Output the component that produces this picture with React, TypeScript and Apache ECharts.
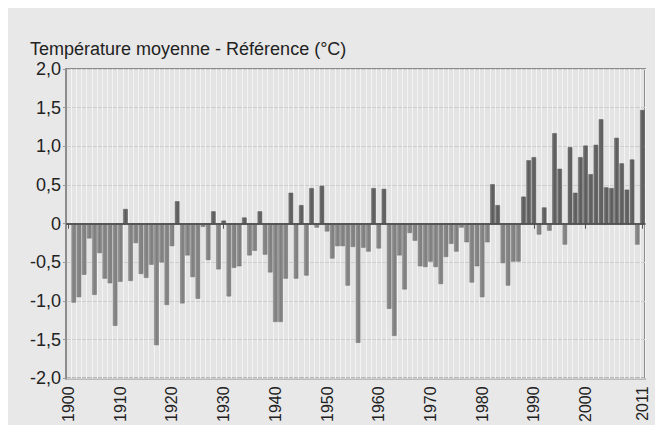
import React, { useEffect, useRef } from "react";
import * as echarts from "echarts";

const TITLE = "Température moyenne - Référence (°C)";
const FIRST_YEAR = 1900;

// anomalies (°C), 1900 .. 2011 (1900: no bar)
const values1900s: (number | null)[] = [null, -1.02, -0.95, -0.66, -0.19, -0.92, -0.38, -0.71, -0.77, -1.32];
const values1910s = [-0.75, 0.19, -0.74, -0.25, -0.65, -0.7, -0.53, -1.57, -0.5, -1.05];
const values1920s = [-0.29, 0.29, -1.03, -0.41, -0.69, -0.97, -0.04, -0.47, 0.16, -0.59];
const values1930s = [0.04, -0.94, -0.57, -0.55, 0.08, -0.41, -0.35, 0.16, -0.4, -0.63];
const values1940s = [-1.27, -1.27, -0.71, 0.4, -0.71, 0.24, -0.67, 0.46, -0.05, 0.49];
const values1950s = [-0.1, -0.45, -0.29, -0.29, -0.8, -0.3, -1.54, -0.31, -0.36, 0.46];
const values1960s = [-0.32, 0.45, -1.1, -1.45, -0.41, -0.85, -0.12, -0.22, -0.55, -0.56];
const values1970s = [-0.49, -0.56, -0.78, -0.43, -0.26, -0.36, -0.05, -0.24, -0.76, -0.55];
const values1980s = [-0.95, -0.24, 0.51, 0.24, -0.51, -0.8, -0.49, -0.49, 0.35, 0.82];
const values1990s = [0.86, -0.14, 0.21, -0.09, 1.17, 0.71, -0.27, 0.99, 0.4, 0.86];
const values2000s = [1.01, 0.64, 1.02, 1.35, 0.47, 0.46, 1.11, 0.78, 0.44, 0.83, -0.27, 1.47];

const values = [
  ...values1900s, ...values1910s, ...values1920s, ...values1930s, ...values1940s,
  ...values1950s, ...values1960s, ...values1970s, ...values1980s, ...values1990s, ...values2000s,
];
const years = values.map((_, i) => String(FIRST_YEAR + i));
const labeledYears = ["1900", "1910", "1920", "1930", "1940", "1950", "1960", "1970", "1980", "1990", "2000", "2011"];

const Y_MIN = -2;
const Y_MAX = 2;
const Y_STEP = 0.5;

const FONT = "'Liberation Sans', Arial, sans-serif";

export default function App() {
  const ref = useRef<HTMLDivElement>(null);

  useEffect(() => {
    document.documentElement.style.overflow = "hidden";
    document.body.style.overflow = "hidden";
    if (!ref.current) return;
    const chart = echarts.init(ref.current, undefined, { renderer: "svg" });

    const posColor = new echarts.graphic.LinearGradient(0, 0, 1, 0, [
      { offset: 0, color: "#7a7a7a" },
      { offset: 0.5, color: "#5c5c5c" },
      { offset: 1, color: "#686868" },
    ]);
    const negColor = new echarts.graphic.LinearGradient(0, 0, 1, 0, [
      { offset: 0, color: "#9c9c9c" },
      { offset: 0.5, color: "#7e7e7e" },
      { offset: 1, color: "#8a8a8a" },
    ]);

    const isLabeled = (_i: number, v: string) => labeledYears.indexOf(v) >= 0;

    chart.setOption({
      animation: false,
      backgroundColor: "#e8e8e8",
      title: {
        text: TITLE,
        left: 17,
        top: 27,
        textStyle: { fontSize: 18, fontWeight: "normal", color: "#222", fontFamily: FONT },
      },
      grid: {
        left: 58,
        right: 18,
        top: 61,
        bottom: 45,
        show: true,
        backgroundColor: "#e4e4e4",
        borderColor: "#8c8c8c",
        borderWidth: 2,
      },
      xAxis: {
        type: "category",
        data: years,
        boundaryGap: true,
        axisLine: { show: true, lineStyle: { color: "#8c8c8c", width: 2 } },
        axisTick: { show: true, interval: isLabeled, alignWithLabel: true, length: 5, lineStyle: { color: "#555" } },
        axisLabel: {
          interval: isLabeled,
          rotate: 90,
          margin: 8,
          fontSize: 16,
          color: "#222",
          fontFamily: FONT,
        },
        splitLine: { show: true, interval: 0, lineStyle: { color: "#f3f3f3", width: 1 } },
      },
      yAxis: {
        type: "value",
        min: Y_MIN,
        max: Y_MAX,
        interval: Y_STEP,
        axisLine: { show: true, lineStyle: { color: "#8c8c8c", width: 2 } },
        axisTick: { show: true, length: 3, lineStyle: { color: "#999" } },
        axisLabel: {
          margin: 5,
          fontSize: 18,
          color: "#222",
          fontFamily: FONT,
          formatter: (v: number) => (v === 0 ? "0" : v.toFixed(1).replace(".", ",")),
        },
        splitLine: { show: true, lineStyle: { color: "#cdcdcd", width: 1 } },
      },
      series: [
        {
          type: "bar",
          data: values.map((v) =>
            v === null
              ? null
              : { value: v, itemStyle: { color: v >= 0 ? posColor : negColor, borderColor: v >= 0 ? "#555" : "#6c6c6c", borderWidth: 0.5 } }
          ),
          barCategoryGap: "12%",
          markLine: {
            silent: true,
            symbol: "none",
            label: { show: false },
            lineStyle: { color: "#4a4a4a", width: 1.5, type: "solid" },
            data: [{ yAxis: 0 }],
          },
        },
      ],
    });

    return () => chart.dispose();
  }, []);

  return <div ref={ref} style={{ width: 655, height: 417 }} />;
}
